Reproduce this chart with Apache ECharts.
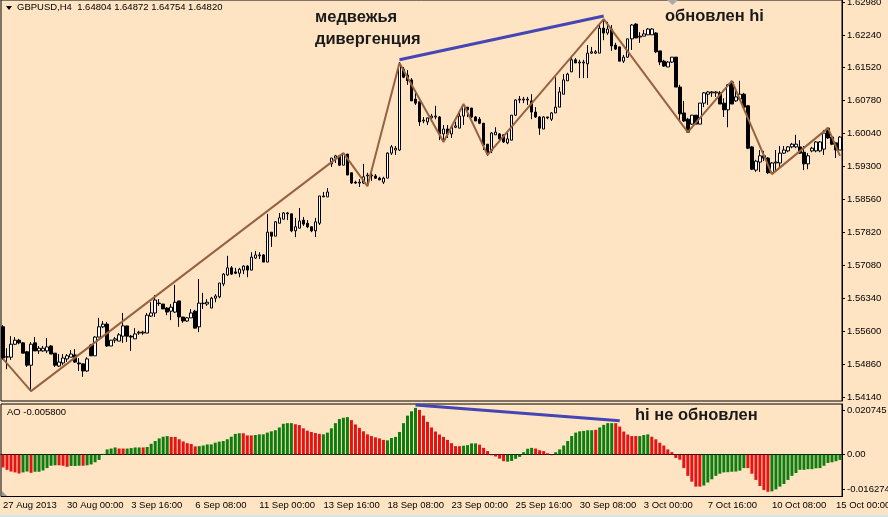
<!DOCTYPE html>
<html>
<head>
<meta charset="utf-8">
<title>GBPUSD,H4</title>
<script src="https://cdn.jsdelivr.net/npm/echarts@6/dist/echarts.min.js"></script>
<style>
html, body { margin: 0; padding: 0; background: #ffe4c4; }
#main { width: 888px; height: 517px; }
</style>
</head>
<body>
<div id="main"></div>
<script>
// open, close, low, high
var candles = [
[1.5571,1.5501,1.5497,1.5575],[1.5503,1.5504,1.5476,1.5523],[1.5503,1.5532,1.5497,1.5550],[1.5532,1.5541,1.5530,1.5548],[1.5541,1.5535,1.5532,1.5544],
[1.5535,1.5512,1.5512,1.5537],[1.5515,1.5485,1.5481,1.5517],[1.5485,1.5532,1.5427,1.5537],[1.5535,1.5517,1.5517,1.5548],[1.5517,1.5523,1.5510,1.5528],
[1.5517,1.5523,1.5515,1.5528],[1.5517,1.5526,1.5512,1.5546],[1.5528,1.5510,1.5510,1.5530],[1.5512,1.5485,1.5481,1.5512],[1.5483,1.5492,1.5481,1.5510],
[1.5490,1.5501,1.5485,1.5510],[1.5499,1.5506,1.5492,1.5510],[1.5503,1.5510,1.5503,1.5519],[1.5508,1.5492,1.5490,1.5521],[1.5490,1.5488,1.5472,1.5501],
[1.5488,1.5472,1.5459,1.5488],[1.5472,1.5499,1.5470,1.5503],[1.5530,1.5506,1.5506,1.5532],[1.5506,1.5548,1.5506,1.5550],[1.5548,1.5571,1.5548,1.5591],
[1.5571,1.5577,1.5568,1.5584],[1.5577,1.5528,1.5526,1.5582],[1.5528,1.5541,1.5528,1.5541],[1.5541,1.5544,1.5535,1.5548],[1.5539,1.5553,1.5539,1.5557],
[1.5550,1.5573,1.5535,1.5602],[1.5573,1.5550,1.5537,1.5573],[1.5550,1.5548,1.5517,1.5553],[1.5544,1.5555,1.5544,1.5568],[1.5557,1.5559,1.5553,1.5562],
[1.5557,1.5559,1.5553,1.5562],[1.5557,1.5597,1.5557,1.5602],[1.5595,1.5602,1.5593,1.5626],[1.5602,1.5631,1.5593,1.5642],[1.5624,1.5623,1.5618,1.5633],
[1.5622,1.5611,1.5611,1.5622],[1.5613,1.5604,1.5597,1.5615],[1.5606,1.5615,1.5586,1.5622],[1.5604,1.5626,1.5602,1.5665],[1.5629,1.5593,1.5571,1.5629],
[1.5593,1.5584,1.5580,1.5593],[1.5584,1.5591,1.5582,1.5593],[1.5591,1.5602,1.5591,1.5611],[1.5606,1.5568,1.5568,1.5609],[1.5571,1.5624,1.5559,1.5678],
[1.5623,1.5624,1.5611,1.5647],[1.5622,1.5626,1.5618,1.5633],[1.5613,1.5635,1.5613,1.5638],[1.5635,1.5640,1.5626,1.5644],[1.5638,1.5669,1.5635,1.5669],
[1.5667,1.5689,1.5662,1.5691],[1.5687,1.5703,1.5685,1.5730],[1.5703,1.5689,1.5687,1.5707],[1.5694,1.5691,1.5689,1.5703],[1.5691,1.5700,1.5682,1.5703],
[1.5698,1.5707,1.5689,1.5709],[1.5707,1.5698,1.5682,1.5709],[1.5698,1.5727,1.5698,1.5738],[1.5725,1.5732,1.5723,1.5741],[1.5730,1.5732,1.5723,1.5738],
[1.5732,1.5716,1.5716,1.5734],[1.5716,1.5783,1.5716,1.5824],[1.5783,1.5774,1.5750,1.5783],[1.5774,1.5806,1.5774,1.5808],[1.5803,1.5815,1.5803,1.5826],
[1.5812,1.5826,1.5812,1.5828],[1.5824,1.5826,1.5810,1.5828],[1.5824,1.5786,1.5783,1.5824],[1.5786,1.5795,1.5772,1.5815],[1.5792,1.5808,1.5792,1.5837],
[1.5810,1.5801,1.5797,1.5817],[1.5803,1.5795,1.5792,1.5810],[1.5795,1.5786,1.5783,1.5795],[1.5786,1.5806,1.5772,1.5815],[1.5803,1.5864,1.5799,1.5864],
[1.5862,1.5864,1.5862,1.5873],[1.5862,1.5873,1.5862,1.5882],[1.5936,1.5949,1.5929,1.5949],[1.5949,1.5954,1.5938,1.5956],[1.5954,1.5933,1.5931,1.5956],
[1.5933,1.5958,1.5933,1.5960],[1.5958,1.5911,1.5911,1.5958],[1.5916,1.5893,1.5891,1.5916],[1.5895,1.5893,1.5891,1.5898],[1.5893,1.5895,1.5884,1.5902],
[1.5893,1.5907,1.5891,1.5936],[1.5909,1.5911,1.5886,1.5916],[1.5909,1.5911,1.5898,1.5916],[1.5909,1.5904,1.5902,1.5913],[1.5904,1.5900,1.5900,1.5907],
[1.5895,1.5904,1.5891,1.5907],[1.5904,1.5960,1.5904,1.5962],[1.5960,1.5974,1.5956,1.5978],[1.5967,1.5971,1.5956,1.5976],[1.5967,1.6157,1.5965,1.6164],
[1.6148,1.6130,1.6128,1.6153],[1.6135,1.6122,1.6113,1.6146],[1.6124,1.6077,1.6077,1.6128],[1.6081,1.6072,1.6068,1.6095],[1.6075,1.6030,1.6021,1.6075],
[1.6032,1.6034,1.6027,1.6041],[1.6030,1.6039,1.6023,1.6039],[1.6039,1.6043,1.6036,1.6048],[1.6041,1.6043,1.6036,1.6066],[1.6041,1.6003,1.5989,1.6043],
[1.6003,1.6014,1.5987,1.6023],[1.6014,1.6003,1.5994,1.6023],[1.6003,1.6018,1.5994,1.6021],[1.6018,1.6021,1.6016,1.6030],[1.6016,1.6043,1.6016,1.6050],
[1.6043,1.6066,1.6023,1.6070],[1.6063,1.6057,1.6041,1.6063],[1.6061,1.6041,1.6039,1.6061],[1.6041,1.6032,1.6032,1.6043],[1.6036,1.6027,1.6025,1.6041],
[1.6027,1.5978,1.5967,1.6027],[1.5980,1.5958,1.5954,1.5980],[1.5965,1.6005,1.5960,1.6007],[1.6001,1.6007,1.6001,1.6018],[1.6003,1.5992,1.5987,1.6005],
[1.6001,1.5985,1.5983,1.6001],[1.5983,1.5992,1.5980,1.6005],[1.5989,1.6045,1.5989,1.6045],[1.6045,1.6079,1.6043,1.6081],[1.6079,1.6081,1.6072,1.6088],
[1.6079,1.6081,1.6072,1.6086],[1.6079,1.6081,1.6068,1.6086],[1.6077,1.6052,1.6036,1.6092],[1.6052,1.6041,1.6039,1.6063],[1.6041,1.6016,1.6001,1.6043],
[1.6014,1.6041,1.6014,1.6043],[1.6041,1.6039,1.6036,1.6041],[1.6036,1.6050,1.6032,1.6052],[1.6050,1.6063,1.6050,1.6130],[1.6063,1.6097,1.6063,1.6108],
[1.6092,1.6124,1.6092,1.6137],[1.6122,1.6137,1.6122,1.6140],[1.6142,1.6169,1.6142,1.6178],[1.6169,1.6162,1.6162,1.6173],[1.6162,1.6164,1.6128,1.6169],
[1.6162,1.6164,1.6128,1.6169],[1.6160,1.6184,1.6128,1.6202],[1.6184,1.6187,1.6182,1.6198],[1.6184,1.6187,1.6182,1.6191],[1.6184,1.6240,1.6184,1.6247],
[1.6240,1.6229,1.6213,1.6260],[1.6229,1.6238,1.6225,1.6254],[1.6238,1.6200,1.6189,1.6247],[1.6202,1.6193,1.6191,1.6207],[1.6198,1.6166,1.6166,1.6198],
[1.6166,1.6175,1.6162,1.6180],[1.6175,1.6216,1.6173,1.6216],[1.6216,1.6247,1.6191,1.6249],[1.6249,1.6218,1.6218,1.6251],[1.6220,1.6222,1.6207,1.6231],
[1.6222,1.6227,1.6222,1.6236],[1.6225,1.6238,1.6225,1.6240],[1.6225,1.6238,1.6225,1.6240],[1.6229,1.6187,1.6184,1.6231],[1.6189,1.6164,1.6157,1.6189],
[1.6166,1.6155,1.6153,1.6169],[1.6153,1.6164,1.6153,1.6166],[1.6164,1.6175,1.6162,1.6175],[1.6175,1.6108,1.6108,1.6175],[1.6108,1.6048,1.6030,1.6113],
[1.6050,1.6032,1.6030,1.6077],[1.6036,1.6007,1.6007,1.6039],[1.6025,1.6045,1.6023,1.6045],[1.6045,1.6025,1.6025,1.6045],[1.6025,1.6072,1.6025,1.6072],
[1.6072,1.6095,1.6063,1.6097],[1.6092,1.6097,1.6068,1.6099],[1.6095,1.6097,1.6086,1.6099],[1.6095,1.6097,1.6086,1.6099],[1.6095,1.6070,1.6070,1.6099],
[1.6072,1.6057,1.6041,1.6083],[1.6057,1.6113,1.6018,1.6115],[1.6119,1.6070,1.6070,1.6122],[1.6077,1.6086,1.6075,1.6106],[1.6081,1.6092,1.6081,1.6122],
[1.6092,1.6063,1.6061,1.6095],[1.6066,1.5971,1.5969,1.6068],[1.5974,1.5924,1.5922,1.5976],[1.5922,1.5942,1.5918,1.5945],[1.5940,1.5954,1.5918,1.5967],
[1.5954,1.5949,1.5942,1.5965],[1.5949,1.5916,1.5913,1.5951],[1.5916,1.5938,1.5913,1.5940],[1.5938,1.5940,1.5918,1.5967],[1.5938,1.5960,1.5929,1.5976],
[1.5960,1.5967,1.5958,1.5976],[1.5965,1.5974,1.5962,1.5976],[1.5974,1.5980,1.5971,1.5983],[1.5974,1.5980,1.5971,1.6001],[1.5974,1.5960,1.5958,1.5989],
[1.5962,1.5936,1.5922,1.5976],[1.5936,1.5954,1.5924,1.5960],[1.5965,1.5971,1.5962,1.5974],[1.5965,1.5985,1.5962,1.5987],[1.5965,1.5985,1.5962,1.5987],
[1.5969,1.6005,1.5956,1.6012],[1.6016,1.5994,1.5992,1.6016],[1.5996,1.5980,1.5978,1.5996],[1.5983,1.5967,1.5949,1.5983],[1.5967,1.5996,1.5967,1.5998]
];

// ZigZag pivots: bar index, price
var zigzag = [[0,1.5499],[7,1.5427],[85,1.5960],[91,1.5886],[99,1.6162],[110,1.5985],[115,1.6070],[121,1.5956],[150,1.6260],[171,1.6007],[182,1.6122],[192,1.5913],[206,1.6016],[209,1.5954]];

// hand drawn divergence lines
var priceTrend = [[99,1.6169],[150,1.6267]];
var aoTrend = [[103,0.0230],[154,0.0157]];

var aoValues = [
-0.0060,-0.0071,-0.0079,-0.0083,-0.0088,-0.0083,-0.0079,-0.0085,-0.0080,-0.0080,
-0.0074,-0.0063,-0.0052,-0.0050,-0.0050,-0.0052,-0.0057,-0.0053,-0.0053,-0.0052,
-0.0052,-0.0050,-0.0046,-0.0036,-0.0025,0.0003,0.0024,0.0028,0.0033,0.0028,
0.0028,0.0028,0.0030,0.0033,0.0033,0.0033,0.0035,0.0050,0.0063,0.0075,
0.0083,0.0086,0.0082,0.0082,0.0071,0.0061,0.0053,0.0049,0.0038,0.0039,
0.0042,0.0047,0.0047,0.0055,0.0060,0.0063,0.0071,0.0083,0.0096,0.0099,
0.0099,0.0089,0.0089,0.0091,0.0094,0.0094,0.0102,0.0108,0.0113,0.0126,
0.0143,0.0146,0.0146,0.0141,0.0137,0.0122,0.0111,0.0105,0.0100,0.0096,
0.0094,0.0102,0.0122,0.0146,0.0165,0.0171,0.0174,0.0160,0.0140,0.0124,
0.0108,0.0094,0.0086,0.0080,0.0075,0.0068,0.0066,0.0077,0.0082,0.0105,
0.0146,0.0181,0.0201,0.0217,0.0207,0.0181,0.0152,0.0126,0.0107,0.0093,
0.0082,0.0068,0.0053,0.0039,0.0039,0.0041,0.0044,0.0052,0.0052,0.0046,
0.0031,0.0016,-0.0003,-0.0009,-0.0019,-0.0031,-0.0033,-0.0030,-0.0020,-0.0011,
0.0011,0.0027,0.0031,0.0028,0.0020,0.0016,0.0006,-0.0003,0.0011,0.0024,
0.0042,0.0063,0.0086,0.0102,0.0108,0.0110,0.0113,0.0113,0.0115,0.0126,
0.0138,0.0146,0.0146,0.0146,0.0130,0.0107,0.0093,0.0086,0.0086,0.0086,
0.0091,0.0094,0.0083,0.0071,0.0055,0.0042,0.0024,0.0011,-0.0016,-0.0024,
-0.0063,-0.0099,-0.0126,-0.0149,-0.0149,-0.0144,-0.0130,-0.0115,-0.0099,-0.0089,
-0.0083,-0.0082,-0.0080,-0.0079,-0.0075,-0.0063,-0.0063,-0.0089,-0.0118,-0.0146,
-0.0165,-0.0173,-0.0171,-0.0162,-0.0149,-0.0137,-0.0118,-0.0099,-0.0086,-0.0071,
-0.0071,-0.0068,-0.0068,-0.0064,-0.0063,-0.0052,-0.0039,-0.0036,-0.0031,-0.0025
];
// bar index ranges where AO is falling (red)
var aoFalling = [[0,4],[7,7],[14,16],[20,20],[29,30],[35,35],[42,48],[60,62],[73,79],[87,95],[104,114],[119,125],[133,137],[148,148],[153,158],[162,174],[186,191]];

var timeLabels = ['27 Aug 2013','30 Aug 00:00','3 Sep 16:00','6 Sep 08:00','11 Sep 00:00','13 Sep 16:00','18 Sep 08:00','23 Sep 00:00','25 Sep 16:00','30 Sep 08:00','3 Oct 00:00','7 Oct 16:00','10 Oct 08:00','15 Oct 00:00'];
var priceTicks = [1.6298,1.6224,1.6152,1.6078,1.6004,1.5930,1.5856,1.5782,1.5708,1.5634,1.5560,1.5486,1.5414];
var aoTicks = [0.020745,0,-0.016274];

var bgColor = '#ffe4c4';
var labelFont = 'Liberation Sans';
var noteFont = 'Liberation Sans';

var categories = candles.map(function (c, i) {
    return i % 16 === 0 ? timeLabels[i / 16] : '';
});

var aoBars = aoValues.map(function (v, i) {
    var red = aoFalling.some(function (r) { return i >= r[0] && i <= r[1]; });
    return { value: v, itemStyle: { color: red ? '#e81212' : '#0e7d0e' } };
});

function note(text, x, y) {
    return {
        type: 'text', x: x, y: y, z: 50,
        style: { text: text, fill: '#1a1a1a', verticalAlign: 'middle', font: 'bold 16.5px "' + noteFont + '"' }
    };
}
function small(text, x, y) {
    return {
        type: 'text', x: x, y: y, z: 50,
        style: { text: text, fill: '#000', verticalAlign: 'middle', font: '9.5px "' + labelFont + '"' }
    };
}

var myChart = echarts.init(document.getElementById('main'));

var option = {
    animation: false,
    backgroundColor: bgColor,
    grid: [
        { left: 1, right: 46, top: 0, height: 401, show: true, borderColor: '#000', borderWidth: 1, outerBoundsMode: 'none' },
        { left: 1, right: 46, top: 404, height: 92.5, show: true, borderColor: '#000', borderWidth: 1, outerBoundsMode: 'none' }
    ],
    xAxis: [
        {
            type: 'category', gridIndex: 0, data: categories,
            axisLine: { show: false }, axisTick: { show: false }, axisLabel: { show: false }, splitLine: { show: false }
        },
        {
            type: 'category', gridIndex: 1, data: categories,
            axisLine: { lineStyle: { color: '#000' } },
            axisTick: { alignWithLabel: true, interval: 15, length: 4, lineStyle: { color: '#000' } },
            axisLabel: {
                interval: 15, color: '#000', align: 'left', margin: 4, hideOverlap: false,
                fontFamily: labelFont, fontSize: 9.5
            },
            splitLine: { show: false }
        }
    ],
    yAxis: [
        {
            type: 'value', gridIndex: 0, position: 'right', min: 1.54048, max: 1.6303, scale: true,
            axisLine: { show: true, lineStyle: { color: '#000' } },
            axisTick: { show: true, length: 3, customValues: priceTicks, lineStyle: { color: '#000' } },
            axisLabel: {
                customValues: priceTicks, color: '#000', margin: 5, fontFamily: labelFont, fontSize: 9.5,
                showMinLabel: true, showMaxLabel: true,
                formatter: function (v) { return v.toFixed(5); }
            },
            splitLine: { show: false }
        },
        {
            type: 'value', gridIndex: 1, position: 'right', min: -0.0195, max: 0.0235,
            axisLine: { show: true, lineStyle: { color: '#000' } },
            axisTick: { show: true, length: 3, customValues: aoTicks, lineStyle: { color: '#000' } },
            axisLabel: {
                customValues: aoTicks, color: '#000', margin: 5, fontFamily: labelFont, fontSize: 9.5,
                formatter: function (v) { return v === 0 ? '0.00' : v.toFixed(6); }
            },
            splitLine: { show: false }
        }
    ],
    series: [
        {
            type: 'candlestick', xAxisIndex: 0, yAxisIndex: 0, barWidth: 3,
            data: candles,
            itemStyle: { color: '#fff', color0: '#000', borderColor: '#000', borderColor0: '#000', borderWidth: 1 }
        },
        {
            type: 'line', xAxisIndex: 0, yAxisIndex: 0, data: zigzag, symbol: 'none', z: 5,
            lineStyle: { color: '#96623f', width: 2 }
        },
        {
            type: 'line', xAxisIndex: 0, yAxisIndex: 0, data: priceTrend, symbol: 'none', z: 6,
            lineStyle: { color: '#4545b5', width: 3 }
        },
        {
            type: 'bar', xAxisIndex: 1, yAxisIndex: 1, barWidth: 3, data: aoBars
        },
        {
            type: 'line', xAxisIndex: 1, yAxisIndex: 1, data: aoTrend, symbol: 'none', z: 6,
            lineStyle: { color: '#4545b5', width: 3 }
        }
    ],
    graphic: [
        small('GBPUSD,H4  1.64804 1.64872 1.64754 1.64820', 17, 7),
        small('AO -0.005800', 7, 412),
        note('медвежья', 315, 17),
        note('дивергенция', 315, 39),
        note('обновлен hi', 665, 16.5),
        note('hi не обновлен', 635, 415),
        // small window marks
        { type: 'polygon', z: 50, shape: { points: [[6, 6], [12, 6], [9, 10]] }, style: { fill: '#000' } },
        { type: 'polygon', z: 50, shape: { points: [[667, 0], [678, 0], [672.5, 5]] }, style: { fill: '#aaa' } },
        { type: 'polygon', z: 50, shape: { points: [[2, 491], [7, 496], [2, 496]] }, style: { fill: '#999' } },
        { type: 'rect', z: 50, shape: { x: 0, y: 515, width: 888, height: 2 }, style: { fill: '#d6e4f0' } }
    ]
};

myChart.setOption(option);
</script>
</body>
</html>
